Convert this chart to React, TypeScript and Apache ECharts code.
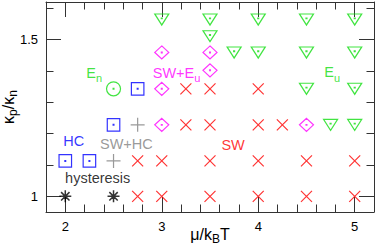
import React, { useEffect, useRef } from 'react';
import * as echarts from 'echarts';

// ---- data ----
const xRange = [1.8, 5.2];
const yRange = [0.95, 1.62];
const xMajorTicks = [2, 3, 4, 5];
const xMinorTicks = [2.2, 2.4, 2.6, 2.8, 3.2, 3.4, 3.6, 3.8, 4.2, 4.4, 4.6, 4.8];
const yMajorTicks = [1, 1.5];
const yMinorTicks = [1.1, 1.2, 1.3, 1.4, 1.6];

const euPoints = [
  [3, 1.564], [3.5, 1.564], [4, 1.564], [4.5, 1.564], [5, 1.564],
  [3.5, 1.511],
  [3.75, 1.459], [4, 1.459], [4.5, 1.459], [5, 1.459],
  [4.5, 1.343], [5, 1.343],
  [4.75, 1.228], [5, 1.228],
];
const swEuPoints = [
  [3, 1.459], [3.5, 1.459], [3.5, 1.402], [3, 1.343], [3, 1.228], [4.5, 1.228],
];
const hcPoints = [[2.75, 1.343], [2.5, 1.228], [2, 1.113], [2.25, 1.113]];
const enPoints = [[2.5, 1.343]];
const swHcPoints = [[2.75, 1.228], [2.5, 1.113]];
const swPoints = [
  [3.25, 1.343], [3.5, 1.343], [4, 1.343],
  [3.25, 1.228], [3.5, 1.228], [4, 1.228], [4.25, 1.228],
  [2.75, 1.113], [3, 1.113], [3.5, 1.113], [4, 1.113], [4.5, 1.113], [5, 1.113],
  [2.75, 1], [3, 1], [3.5, 1], [4, 1], [4.5, 1], [5, 1],
];
const hysteresisPoints = [[2, 1], [2.5, 1]];

const annotationTexts = ['{m|E}{s|n}', '{m|SW+E}{s|u}', '{m|E}{s|u}', 'HC', 'SW+HC', 'hysteresis', 'SW'];
const annotationX = [2.30, 3.153, 4.766, 2.088, 2.633, 2.336, 3.739];
const annotationY = [1.389, 1.389, 1.390, 1.178, 1.166, 1.058, 1.1645];

const xTitle = '{m|μ/k}{s|B}{m|T}';
const yTitle = '{m|κ}{s|p}{m|/κ}{s|n}';

// ---- styles ----
const FONT = "'Liberation Sans', Arial, Helvetica, sans-serif";
const AXIS_COLOR = '#333';
const GREEN = '#11dd11';
const MAGENTA = '#ff00ff';
const BLUE = '#0000ff';
const RED = '#ff0000';
const GRAY = '#808080';
const BLACK = '#000000';
const annotationColors = [GREEN, MAGENTA, GREEN, BLUE, GRAY, BLACK, RED];

const SYM_TRI = 'path://M0,0L14,0L7,11Z M6.6,3.9L7.4,3.9L7.4,4.7L6.6,4.7Z';
const SYM_DIAMOND = 'path://M7,0L14,6.5L7,13L0,6.5Z M6.6,6.1L7.4,6.1L7.4,6.9L6.6,6.9Z';
const SYM_SQUARE = 'path://M0,0L12.5,0L12.5,12.5L0,12.5Z M5.85,5.85L6.65,5.85L6.65,6.65L5.85,6.65Z';
const SYM_CIRCLE = 'path://M0,7A7,7,0,1,1,14,7A7,7,0,1,1,0,7Z M6.6,6.6L7.4,6.6L7.4,7.4L6.6,7.4Z';
const SYM_CROSS = 'path://M0,0L11,11M11,0L0,11';
const SYM_PLUS = 'path://M7,0L7,14M0,7L14,7';
const SYM_STAR = 'path://M6,0L6,12M0,6L12,6M1.8,1.8L10.2,10.2M10.2,1.8L1.8,10.2M5,5L7,5L7,7L5,7Z';

function rich(color: string, size: number, subSize: number, pad: number) {
  return {
    m: { fontSize: size, fontFamily: FONT, color, verticalAlign: 'top' },
    s: { fontSize: subSize, fontFamily: FONT, color, verticalAlign: 'bottom', padding: [pad, 0, 0, 0] },
  };
}

function axis(kind: 'x' | 'y', position: string, ticks: number[], len: number, major: boolean, labels: boolean, extra: any = {}) {
  const range = kind === 'x' ? xRange : yRange;
  return {
    type: 'value',
    position,
    min: range[0],
    max: range[1],
    axisLine: { show: major, onZero: false, lineStyle: { color: AXIS_COLOR, width: 1 } },
    axisTick: { show: true, inside: true, length: len, customValues: ticks, lineStyle: { color: AXIS_COLOR, width: 1 } },
    axisLabel: labels
      ? { show: true, customValues: ticks, margin: 8, fontSize: 13, color: '#000', fontFamily: FONT }
      : { show: false },
    splitLine: { show: false },
    ...extra,
  };
}

function scatter(name: string, data: number[][], symbol: string, size: number[], color: string, width = 1.2) {
  return {
    type: 'scatter',
    name,
    data,
    symbol,
    symbolSize: size,
    xAxisIndex: 0,
    yAxisIndex: 0,
    silent: true,
    itemStyle: { color: 'transparent', borderColor: color, borderWidth: width },
    emphasis: { disabled: true },
    z: 3,
  };
}

const option: any = {
  animation: false,
  backgroundColor: '#fff',
  grid: { left: 46, right: 3, top: 2, bottom: 34, containLabel: false, outerBoundsMode: 'none' },
  xAxis: [
    axis('x', 'bottom', xMajorTicks, 15, true, true, {
      name: xTitle,
      nameLocation: 'middle',
      nameGap: 14,
      nameMoveOverlap: false,
      nameTextStyle: { color: '#000', fontFamily: FONT, fontSize: 16, rich: rich('#000', 16, 12, 7) },
    }),
    axis('x', 'bottom', xMinorTicks, 7.5, false, false),
    axis('x', 'top', xMajorTicks, 15, true, false),
    axis('x', 'top', xMinorTicks, 7.5, false, false),
  ],
  yAxis: [
    axis('y', 'left', yMajorTicks, 15, true, true, {
      name: yTitle,
      nameLocation: 'middle',
      nameGap: 27,
      nameMoveOverlap: false,
      nameTextStyle: { color: '#000', fontFamily: FONT, fontSize: 16, rich: rich('#000', 16, 12, 7) },
    }),
    axis('y', 'left', yMinorTicks, 7.5, false, false),
    axis('y', 'right', yMajorTicks, 15, true, false),
    axis('y', 'right', yMinorTicks, 7.5, false, false),
  ],
  series: [
    scatter('Eu', euPoints, SYM_TRI, [14, 11], GREEN),
    scatter('SW+Eu', swEuPoints, SYM_DIAMOND, [14, 13], MAGENTA),
    scatter('HC', hcPoints, SYM_SQUARE, [12.5, 12.5], BLUE),
    scatter('En', enPoints, SYM_CIRCLE, [14, 14], GREEN),
    scatter('SW+HC', swHcPoints, SYM_PLUS, [14, 14], GRAY),
    scatter('SW', swPoints, SYM_CROSS, [11, 11], RED),
    scatter('hysteresis', hysteresisPoints, SYM_STAR, [12, 12], BLACK, 1.5),
    {
      type: 'scatter',
      name: 'labels',
      xAxisIndex: 0,
      yAxisIndex: 0,
      silent: true,
      symbol: 'circle',
      symbolSize: 1,
      itemStyle: { color: 'transparent' },
      z: 4,
      data: annotationTexts.map((t, i) => ({
        value: [annotationX[i], annotationY[i]],
        label: {
          show: true,
          position: 'inside',
          formatter: t,
          color: annotationColors[i],
          fontSize: 14.5,
          fontFamily: FONT,
          rich: rich(annotationColors[i], 14.5, 11, 7.5),
        },
      })),
    },
  ],
};

export default function App() {
  const ref = useRef<HTMLDivElement>(null);
  useEffect(() => {
    const chart = echarts.init(ref.current!, null, { renderer: 'svg' });
    chart.setOption(option);
    return () => chart.dispose();
  }, []);
  return (
    <div
      ref={ref}
      style={{ position: 'fixed', left: 0, top: 0, width: 377, height: 246, background: '#fff' }}
    />
  );
}
